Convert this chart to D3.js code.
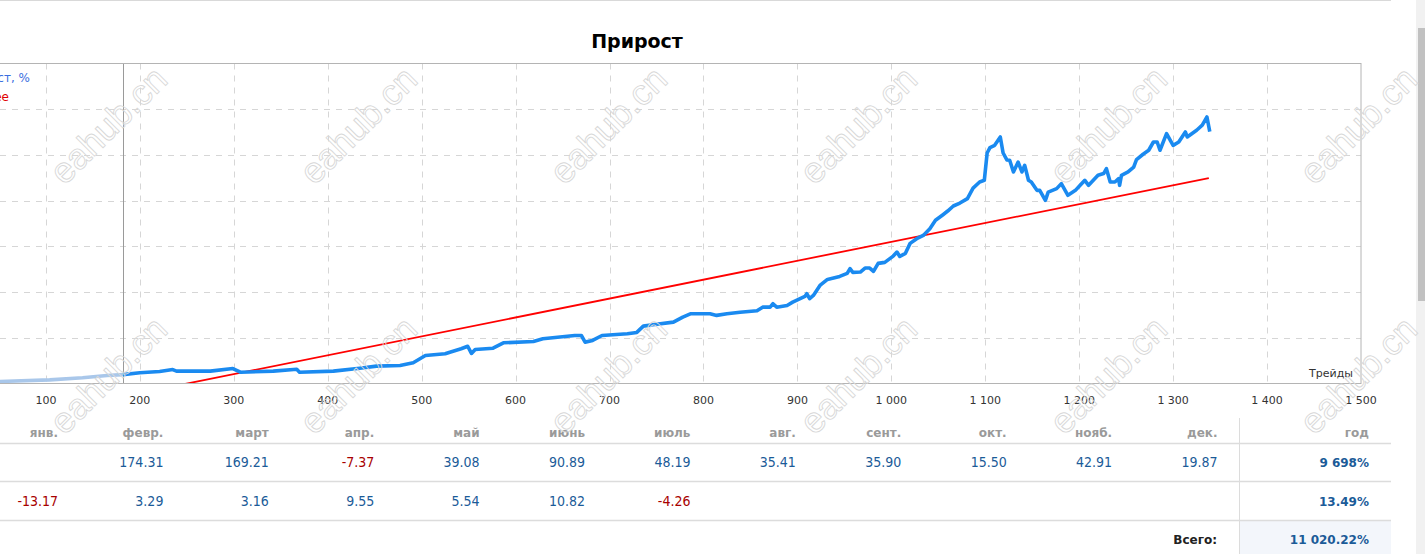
<!DOCTYPE html>
<html>
<head>
<meta charset="utf-8">
<script src="https://cdn.jsdelivr.net/npm/d3@7"></script>
<style>
  html, body { margin: 0; padding: 0; background: #fff; overflow: hidden; }
  svg { display: block; }
</style>
</head>
<body>
<div id="chart"></div>
<script>
// growth curve, trade number -> growth %
const trades = [0, 51, 104, 139, 165, 182, 200, 221, 235, 239, 275, 299, 307, 342, 367, 370, 406, 434, 452, 477, 491,
  504, 525, 530, 542, 549, 553, 557, 576, 587, 619, 629, 663, 670, 674, 682, 692, 719, 729, 736, 746, 768, 778,
  786, 807, 814, 825, 839, 857, 863, 871, 874, 878, 889, 895, 908, 910, 913, 917, 924, 932, 945, 953, 956, 959,
  967, 972, 977, 981, 986, 993, 1002, 1006, 1009, 1015, 1020, 1027, 1034, 1041, 1047, 1055, 1060, 1066, 1073,
  1081, 1087, 1094, 1099, 1102, 1105, 1110, 1116, 1119, 1123, 1126, 1130, 1135, 1139, 1142, 1146, 1149, 1155,
  1158, 1164, 1167, 1176, 1181, 1188, 1196, 1201, 1206, 1210, 1215, 1220, 1226, 1229, 1233, 1238, 1242, 1243,
  1245, 1252, 1258, 1261, 1268, 1274, 1279, 1283, 1286, 1293, 1300, 1306, 1313, 1315, 1325, 1331, 1336, 1339];
const growth = [0, 90, 160, 250, 350, 390, 470, 525, 610, 540, 540, 655, 495, 540, 625, 495, 540, 670, 760, 790, 905,
  1225, 1300, 1370, 1520, 1630, 1315, 1490, 1545, 1780, 1840, 1955, 2100, 2100, 1810, 1885, 2100, 2175, 2235, 2510, 2570, 2685, 2905,
  3050, 3050, 2980, 3050, 3120, 3185, 3340, 3340, 3490, 3340, 3415, 3560, 3810, 3930, 3710, 3855, 4290, 4555, 4685, 4815, 5025, 4860,
  4875, 5050, 5050, 4905, 5255, 5300, 5575, 5750, 5560, 5695, 6130, 6335, 6480, 6775, 7140, 7385, 7545, 7765, 7895,
  8090, 8550, 8815, 8890, 10085, 10320, 10420, 10785, 10085, 9780, 9765, 9255, 9690, 9255, 9545, 8890, 8815, 8450,
  8450, 8015, 8375, 8525, 8745, 8235, 8450, 8670, 8890, 8670, 8890, 9110, 9185, 9400, 8815, 8815, 8965, 8670,
  9110, 9255, 9470, 9795, 10030, 10205, 10565, 10565, 10205, 10935, 10420, 10565, 11005, 10785, 11080, 11300, 11660, 11020];
const splitTrade = 182;
const trendTrades = [0, 1338];
const trendValues = [-2070, 8990];
const xTicks = [100, 200, 300, 400, 500, 600, 700, 800, 900, 1000, 1100, 1200, 1300, 1400, 1500];
const yTicks = [2000, 4000, 6000, 8000, 10000, 12000];

// monthly table
const months = ["янв.", "февр.", "март", "апр.", "май", "июнь", "июль", "авг.", "сент.", "окт.", "нояб.", "дек."];
const year1 = [null, 174.31, 169.21, -7.37, 39.08, 90.89, 48.19, 35.41, 35.90, 15.50, 42.91, 19.87];
const year2 = [-13.17, 3.29, 3.16, 9.55, 5.54, 10.82, -4.26, null, null, null, null, null];
const yearTotals = ["9 698%", "13.49%"];
const totalLabel = "Всего:";
const totalValue = "11 020.22%";

const W = 1425, H = 554;
const svg = d3.select("#chart").append("svg").attr("width", W).attr("height", H);

const pLeft = -48, pRight = 1361, pTop = 63.5, pBottom = 383.5;
const x = d3.scaleLinear().domain([0, 1500]).range([pLeft, pRight]);
const y = d3.scaleLinear().domain([0, 14000]).range([pBottom, pTop]);
const fmt = d3.formatLocale({decimal: ".", thousands: "\u00a0", grouping: [3], currency: ["", ""]}).format(",d");
const chartFont = "'DejaVu Sans', Verdana, sans-serif";

// page frame
svg.append("line").attr("x1", 0).attr("x2", 1391).attr("y1", 0.5).attr("y2", 0.5)
  .attr("stroke", "#d9d9d9");
svg.append("rect").attr("x", 1416).attr("y", 0).attr("width", 9).attr("height", H).attr("fill", "#f1f1f1");
svg.append("rect").attr("x", 1418).attr("y", 28).attr("width", 8).attr("height", 273).attr("fill", "#c1c1c1");

svg.append("text").attr("x", 637).attr("y", 48).attr("text-anchor", "middle")
  .style("font", "bold 19px " + chartFont).attr("fill", "#000").text("Прирост");

// grid
const g = svg.append("g");
g.selectAll(".vg").data(xTicks.slice(0, -1)).join("line")
  .attr("x1", d => Math.round(x(d)) + 0.5).attr("x2", d => Math.round(x(d)) + 0.5)
  .attr("y1", pTop).attr("y2", pBottom)
  .attr("stroke", "#d6d6d6").attr("stroke-dasharray", "6,6");
g.selectAll(".hg").data(yTicks).join("line")
  .attr("x1", pLeft).attr("x2", pRight)
  .attr("y1", d => Math.round(y(d)) + 0.5).attr("y2", d => Math.round(y(d)) + 0.5)
  .attr("stroke", "#d6d6d6").attr("stroke-dasharray", "6,6");

g.append("line").attr("x1", Math.round(x(splitTrade)) + 0.5).attr("x2", Math.round(x(splitTrade)) + 0.5)
  .attr("y1", pTop).attr("y2", pBottom).attr("stroke", "#9a9a9a");

svg.append("defs").append("clipPath").attr("id", "plot")
  .append("rect").attr("x", pLeft).attr("y", pTop).attr("width", pRight - pLeft).attr("height", pBottom - pTop);

const pts = trades.map((t, i) => [t, growth[i]]);
const line = d3.line().x(d => x(d[0])).y(d => y(d[1]));
const plot = svg.append("g").attr("clip-path", "url(#plot)");

plot.append("path").datum(trendTrades.map((t, i) => [t, trendValues[i]]))
  .attr("fill", "none").attr("stroke", "#ff0000").attr("stroke-width", 1.8).attr("d", line);

plot.append("path").datum(pts.filter(d => d[0] <= splitTrade))
  .attr("fill", "none").attr("stroke", "#a9c7ea").attr("stroke-width", 3.6)
  .attr("stroke-linejoin", "round").attr("d", line);
plot.append("path").datum(pts.filter(d => d[0] >= splitTrade))
  .attr("fill", "none").attr("stroke", "#1a8af0").attr("stroke-width", 3.6)
  .attr("stroke-linejoin", "round").attr("d", line);

svg.append("rect").attr("x", pLeft).attr("y", pTop).attr("width", pRight - pLeft).attr("height", pBottom - pTop)
  .attr("fill", "none").attr("stroke", "#b4b4b4");

// legend (cut off at the left edge, as on the page)
svg.append("text").attr("x", 30).attr("y", 82).attr("text-anchor", "end")
  .style("font", "12px " + chartFont).attr("fill", "#3a6ee0").text("Прирост, %");
svg.append("text").attr("x", 9).attr("y", 101).attr("text-anchor", "end")
  .style("font", "12px " + chartFont).attr("fill", "#e00000").text("Среднее");

// x axis labels
svg.selectAll(".xl").data(xTicks).join("text")
  .attr("x", d => x(d)).attr("y", 404).attr("text-anchor", "middle")
  .style("font", "11px " + chartFont).attr("fill", "#333").text(d => fmt(d));
svg.append("text").attr("x", 1353).attr("y", 377).attr("text-anchor", "end")
  .style("font", "11px " + chartFont).attr("fill", "#333").text("Трейды");

// table
const col = d3.scaleLinear().domain([0, 11]).range([58, 1217.5]);
const tableFont = "'DejaVu Sans Condensed', 'Liberation Sans Narrow', 'DejaVu Sans', sans-serif";
const tbl = svg.append("g");
tbl.append("rect").attr("x", 1240).attr("y", 520.5).attr("width", 151).attr("height", 34).attr("fill", "#f3f6fb");
[443.5, 481.5, 520.5].forEach(ry => {
  tbl.append("line").attr("x1", 0).attr("x2", 1391).attr("y1", ry).attr("y2", ry).attr("stroke", "#dcdcdc").attr("stroke-width", 1.5);
});
tbl.append("line").attr("x1", 1239.5).attr("x2", 1239.5).attr("y1", 418).attr("y2", H).attr("stroke", "#dcdcdc");

tbl.selectAll(".mh").data(months).join("text")
  .attr("x", (d, i) => col(i)).attr("y", 436.5).attr("text-anchor", "end")
  .style("font", "bold 12px " + chartFont).attr("fill", "#9a9a9a").text(d => d);
tbl.append("text").attr("x", 1369).attr("y", 436.5).attr("text-anchor", "end")
  .style("font", "bold 12px " + chartFont).attr("fill", "#9a9a9a").text("год");

[year1, year2].forEach((row, r) => {
  const yy = r === 0 ? 467 : 505.5;
  tbl.selectAll(".r" + r).data(row.map((v, i) => ({v, i})).filter(d => d.v !== null)).join("text")
    .attr("x", d => col(d.i)).attr("y", yy).attr("text-anchor", "end")
    .style("font", "14px " + tableFont)
    .attr("fill", d => d.v < 0 ? "#a80000" : "#1b5b98")
    .text(d => d.v.toFixed(2));
  tbl.append("text").attr("x", 1369).attr("y", yy).attr("text-anchor", "end")
    .style("font", "bold 12px " + chartFont).attr("fill", "#1b5b98").text(yearTotals[r]);
});
tbl.append("text").attr("x", 1217).attr("y", 544).attr("text-anchor", "end")
  .style("font", "bold 12px " + chartFont).attr("fill", "#222").text(totalLabel);
tbl.append("text").attr("x", 1369).attr("y", 544).attr("text-anchor", "end")
  .style("font", "bold 12px " + chartFont).attr("fill", "#1b5b98").text(totalValue);

// watermark
const marks = [];
[125, 375].forEach(cy => d3.range(6).forEach(k => marks.push([108 + 250 * k, cy])));
svg.append("g").selectAll("text").data(marks).join("text")
  .attr("transform", d => `translate(${d[0]},${d[1]}) rotate(-45)`)
  .attr("text-anchor", "middle").attr("dy", "0.35em")
  .style("font", "36px 'Liberation Sans', Arial, sans-serif")
  .attr("fill", "none").attr("stroke", "#d8d8d8").attr("stroke-width", 0.9)
  .text("eahub.cn");
</script>
</body>
</html>
